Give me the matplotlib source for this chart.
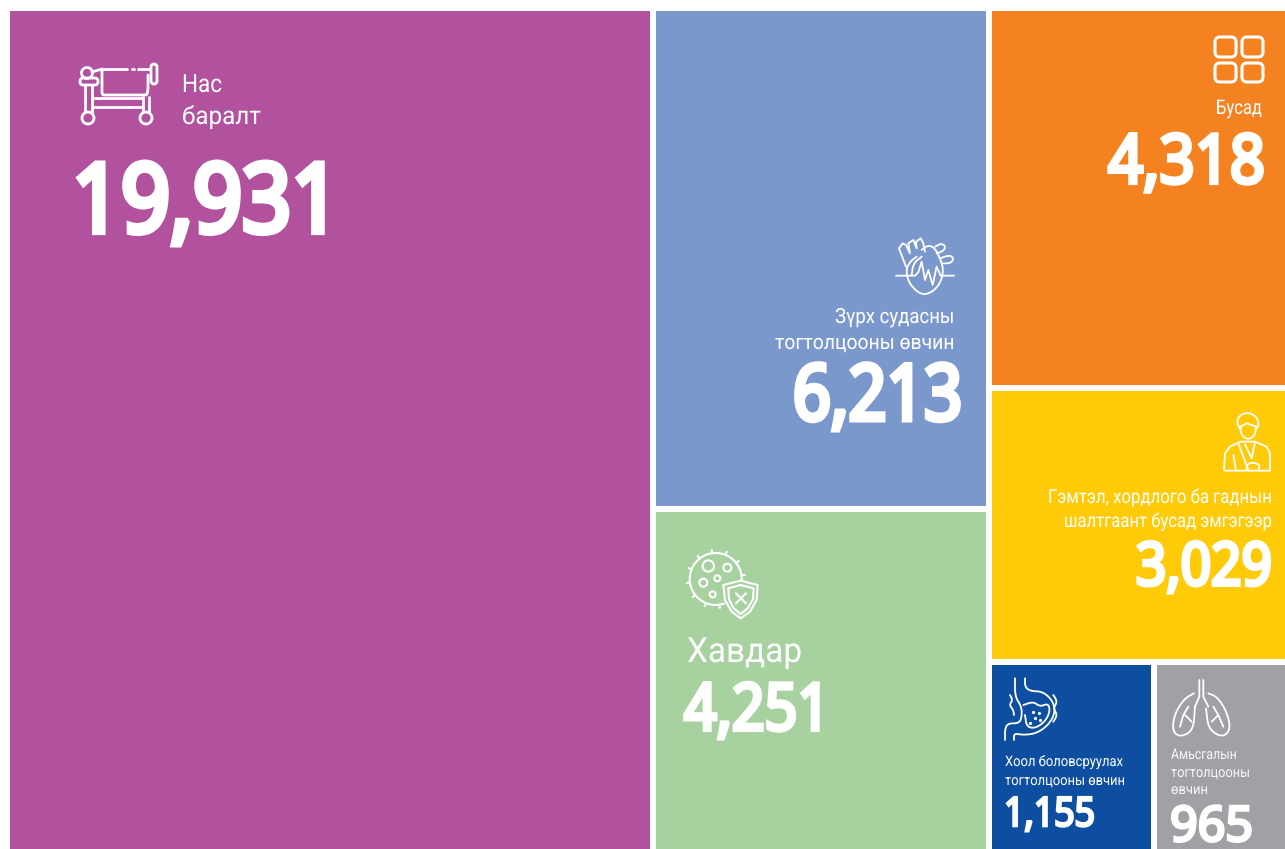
import numpy as np
import matplotlib
matplotlib.use("Agg")
import matplotlib.pyplot as plt
from matplotlib.patches import Rectangle, Circle, FancyBboxPatch
from matplotlib.patheffects import AbstractPathEffect
from matplotlib.transforms import Affine2D

# ---------- data ----------
categories = ["Нас\nбаралт", "Зүрх судасны\nтогтолцооны өвчин", "Хавдар", "Бусад",
              "Гэмтэл, хордлого ба гаднын\nшалтгаант бусад эмгэгээр",
              "Хоол боловсруулах\nтогтолцооны өвчин", "Амьсгалын\nтогтолцооны\nөвчин"]
values = [19931, 6213, 4251, 4318, 3029, 1155, 965]
colors = ["#B2529F", "#7B98CD", "#A8D1A0", "#F58220", "#FFCB08", "#0D4EA0", "#A0A1A4"]

W, H = 1285, 849
X0, X1, Y0, Y1 = 10, 1285, 11, 849
GAP = 6
# small layout corrections in pixels, the artwork is not strictly proportional
COL_NUDGE = [8.5, -1.5, -7]
MID_NUDGE = 1
RIGHT_NUDGE = [-2.5, 3.5]
BOTTOM_NUDGE = 3

fig = plt.figure(figsize=(W / 100, H / 100), dpi=100, facecolor="white")
ax = fig.add_axes([0, 0, 1, 1])
ax.set_xlim(0, W)
ax.set_ylim(H, 0)
ax.axis("off")
renderer = fig.canvas.get_renderer()

# ---------- treemap layout from values ----------
v = np.array(values, dtype=float)
cols = np.array([v[0], v[1] + v[2], v[3:].sum()])
cw = cols / cols.sum() * (X1 - X0 - 2 * GAP) + COL_NUDGE
cx = [X0, X0 + cw[0] + GAP, X0 + cw[0] + cw[1] + 2 * GAP]
fullh = Y1 - Y0
rects = [(cx[0], Y0, cw[0], fullh)]
h1 = v[1] / cols[1] * (fullh - GAP) + MID_NUDGE
rects += [(cx[1], Y0, cw[1], h1), (cx[1], Y0 + h1 + GAP, cw[1], fullh - GAP - h1)]
rest = v[5] + v[6]
avail = fullh - 2 * GAP
h3 = v[3] / cols[2] * avail + RIGHT_NUDGE[0]
h4 = v[4] / cols[2] * avail + RIGHT_NUDGE[1]
h5 = avail - h3 - h4
y5 = Y0 + h3 + h4 + 2 * GAP
w5 = v[5] / rest * (cw[2] - GAP) + BOTTOM_NUDGE
rects += [(cx[2], Y0, cw[2], h3), (cx[2], Y0 + h3 + GAP, cw[2], h4),
          (cx[2], y5, w5, h5), (cx[2] + w5 + GAP, y5, cw[2] - GAP - w5, h5)]
for (x, y, w, h), c in zip(rects, colors):
    ax.add_patch(Rectangle((x, y), w, h, fc=c, ec="none", zorder=1))

# ---------- text ----------
class Condense(AbstractPathEffect):
    """Narrow a text horizontally about its anchor; there is no condensed face installed."""
    def __init__(self, anchor_x, sx, stroke=0.0):
        super().__init__()
        self.anchor_x, self.sx, self.stroke = anchor_x, sx, stroke

    def draw_path(self, renderer, gc, tpath, affine, rgbFace=None):
        scale = Affine2D().translate(-self.anchor_x, 0).scale(self.sx, 1).translate(self.anchor_x, 0)
        gc0 = renderer.new_gc()
        gc0.copy_properties(gc)
        if self.stroke > 0:
            gc0.set_linewidth(self.stroke)
            gc0.set_foreground("white")
            gc0.set_joinstyle("miter")
        else:
            gc0.set_linewidth(0)
        renderer.draw_path(gc0, tpath, affine + scale, rgbFace)
        gc0.restore()

def fitted(x, y, s, size, width, ha, family, weight, stroke, alpha=1.0):
    t = ax.text(x, y, s, fontsize=size, family=family, fontweight=weight, color="white",
                ha=ha, va="baseline", alpha=alpha, zorder=5)
    sx = width / t.get_window_extent(renderer).width
    t.set_path_effects([Condense(x, sx, stroke)])
    return t

def label(x, y, s, size, width, ha="left", alpha=1.0):
    return fitted(x, y, s, size, width, ha, ["Roboto", "DejaVu Sans"], "normal", 0, alpha)

def number(x, y, val, size, width, ha="left", stroke=1.5):
    return fitted(x, y, f"{val:,}", size, width, ha, ["Noto Sans", "DejaVu Sans"], "bold", stroke)

LN = [c.split("\n") for c in categories]
label(182, 92, LN[0][0], 18, 40); label(182, 124, LN[0][1], 18, 79)
number(72, 232, values[0], 69, 268, stroke=4.5)
label(955, 323, LN[1][0], 15, 120, "right"); label(955, 349, LN[1][1], 15, 180, "right")
number(962, 420, values[1], 56, 169, "right", 3.6)
label(687, 662, LN[2][0], 25, 115)
number(684, 730, values[2], 47, 146, stroke=3.0)
label(1262, 114, LN[3][0], 14.5, 46, "right")
number(1265, 183, values[3], 49, 157, "right", 3.0)
label(1273, 503, LN[4][0], 14, 225, "right"); label(1273, 527, LN[4][1], 14, 209, "right")
number(1272, 585, values[4], 43, 136, "right", 2.8)
label(1005, 766, LN[5][0], 10.5, 118); label(1005, 785, LN[5][1], 10.5, 120)
number(1004, 826, values[5], 29, 91, stroke=1.9)
for s_, yy, ww in zip(LN[6], [759, 777, 794], [66, 79, 37]):
    label(1171, yy, s_, 10.5, ww, alpha=0.92)
number(1170, 841, values[6], 35, 83, stroke=2.2)

# ---------- icons (decoration, drawn as line work) ----------
def chaikin(p, n=2, closed=False):
    p = np.asarray(p, float)
    if closed:
        p = np.vstack([p, p[0]])
    for _ in range(n):
        q = [p[0]] if not closed else []
        for a, b in zip(p[:-1], p[1:]):
            q += [0.75 * a + 0.25 * b, 0.25 * a + 0.75 * b]
        if closed:
            q.append(q[0])
        else:
            q.append(p[-1])
        p = np.array(q)
    return p

def line(pts, ox=0, oy=0, s=1.0, lw=1.3, smooth=False, closed=False, zorder=6, fill=None):
    pts = np.asarray(pts, float)
    if smooth:
        pts = chaikin(pts, closed=closed)
    elif closed:
        pts = np.vstack([pts, pts[0]])
    x = pts[:, 0] * s + ox
    y = pts[:, 1] * s + oy
    if fill is not None:
        ax.fill(x, y, fc=fill, ec="none", zorder=zorder)
    ax.plot(x, y, color="white", lw=lw, solid_capstyle="round", solid_joinstyle="round", zorder=zorder)

def circ(x, y, r, lw=1.3, zorder=6):
    ax.add_patch(Circle((x, y), r, fc="none", ec="white", lw=lw, zorder=zorder))

def rrect(x0, y0, x1, y1, pad, lw=1.3):
    ax.add_patch(FancyBboxPatch((x0 + pad, y0 + pad), x1 - x0 - 2 * pad, y1 - y0 - 2 * pad,
                                boxstyle=f"round,pad={pad},rounding_size={pad}",
                                fc="none", ec="white", lw=lw, zorder=6))

# bed
LW = 2.0
circ(88, 118, 6, LW); circ(146, 118, 6, LW); circ(87, 73, 5.5, LW)
rrect(80, 78, 98, 85, 3, LW)
rrect(151, 64, 157, 84, 3, LW)
for seg in ([(85, 85), (85, 112)], [(92, 85), (92, 112)], [(143, 97), (143, 112)], [(149, 97), (149, 112)],
            [(92, 98), (143, 98)], [(92, 107), (143, 107)], [(102, 69), (127, 69)], [(132, 69), (134, 69)],
            [(138, 69), (150, 69)], [(92, 72), (102, 69)]):
    line(seg, lw=LW)
line([(102, 70), (102, 90), (102, 95), (107, 95), (143, 95), (148, 95), (148, 75)], lw=LW, smooth=True)

# heart
o = dict(ox=880, oy=225, s=1 / 3, lw=1.3)
line([(48, 152), (105, 152), (115, 142), (125, 110), (135, 165), (145, 135), (158, 180), (170, 125), (182, 152), (222, 152)], **o)
line([(110, 95), (90, 110), (78, 135), (85, 170), (110, 200), (135, 210), (165, 195), (185, 165), (190, 130), (180, 100), (165, 70), (145, 60), (125, 75)], smooth=True, **o)
line([(78, 125), (57, 70), (68, 55), (78, 60), (90, 85), (85, 55), (100, 45), (110, 70), (108, 50), (122, 40), (130, 55), (135, 80)], **o)
line([(165, 65), (185, 55), (197, 65), (190, 78), (170, 85)], smooth=True, **o)
line([(180, 100), (210, 90), (222, 102), (210, 115), (190, 115)], smooth=True, **o)
line([(95, 150), (100, 115), (125, 95)], smooth=True, **o)

# tumour with shield
cx_, cy_, r_ = 715.7, 579, 26
th = np.radians(np.arange(0, 292, 4))
ax.plot(cx_ + r_ * np.cos(th), cy_ - r_ * np.sin(th), color="white", lw=1.5, zorder=6)
for a in np.radians(np.arange(0, 290, 30) + 8):
    ax.plot([cx_ + r_ * np.cos(a), cx_ + (r_ + 3) * np.cos(a)], [cy_ - r_ * np.sin(a), cy_ - (r_ + 3) * np.sin(a)],
            color="white", lw=1.5, zorder=6)
for zx, zy, zr in [(100, 78, 17), (157, 83, 12), (127, 115, 9), (85, 128, 12), (113, 163, 9)]:
    circ(675 + zx / 3, 540 + zy / 3, zr / 3, 1.5)
o = dict(ox=675, oy=540, s=1 / 3, lw=1.5)
line([(145, 135), (197, 122), (248, 135), (245, 180), (225, 215), (197, 235), (170, 215), (150, 180)], closed=True, fill=colors[2], **o)
line([(160, 145), (197, 135), (236, 145), (234, 178), (218, 205), (197, 222), (176, 205), (162, 178)], closed=True, **o)
line([(183, 160), (213, 190)], **o); line([(213, 160), (183, 190)], **o)

# others grid
for xa, xb in [(1215, 1236), (1242, 1263)]:
    for ya, yb in [(37, 57), (63, 82)]:
        rrect(xa, ya, xb, yb, 5, 2.2)

# injured person
o = dict(ox=1210, oy=405, s=1 / 3, lw=1.3)
line([(92, 65), (92, 85), (105, 100), (120, 102), (135, 90), (138, 65)], smooth=True, **o)
line([(90, 72), (80, 50), (90, 30), (115, 22), (140, 35), (147, 60), (138, 72)], smooth=True, **o)
line([(92, 65), (110, 55), (125, 60), (138, 65)], **o)
line([(42, 195), (45, 145), (60, 125), (92, 110), (135, 110), (170, 125), (180, 145), (180, 197), (45, 197)], **o)
line([(85, 115), (115, 195)], **o); line([(105, 118), (125, 160)], **o); line([(135, 112), (125, 160)], **o)
line([(70, 150), (78, 197)], **o)
line([(110, 195), (110, 178), (130, 172), (150, 180), (145, 195)], smooth=True, **o)

# stomach
o = dict(ox=990, oy=665, s=1 / 3, lw=1.3)
line([(105, 40), (105, 65), (120, 78), (160, 80), (190, 110), (195, 145), (175, 180), (140, 205), (100, 210), (72, 205), (72, 225)], smooth=True, **o)
line([(75, 40), (75, 95), (95, 125), (95, 160), (85, 175), (55, 175), (45, 190), (45, 225)], smooth=True, **o)
line([(100, 120), (130, 110), (150, 125), (175, 115), (180, 140), (165, 170), (135, 190), (110, 185), (105, 150)], smooth=True, **o)
line([(60, 90), (68, 105), (58, 120), (70, 135), (72, 150)], smooth=True, **o)
line([(190, 90), (202, 110), (190, 130), (202, 150), (190, 170)], smooth=True, **o)
for zx, zy in [(130, 140), (148, 145), (135, 158), (120, 175), (150, 165)]:
    ax.plot(990 + zx / 3, 665 + zy / 3, "o", ms=1.3, color="white", zorder=6)

# lungs
o = dict(ox=990, oy=665, s=1 / 3, lw=1.3)
line([(628, 45), (628, 95), (615, 125)], **o); line([(640, 45), (640, 95), (655, 125)], **o)
line([(612, 85), (585, 100), (560, 135), (548, 175), (552, 205), (575, 215), (610, 195), (615, 125)], smooth=True, **o)
line([(655, 85), (680, 95), (705, 130), (720, 175), (715, 205), (690, 215), (655, 190), (648, 130)], smooth=True, **o)
line([(595, 125), (580, 150), (570, 185)], **o); line([(585, 150), (605, 170)], **o)
line([(670, 125), (685, 150), (700, 185)], **o); line([(685, 150), (665, 170)], **o)

fig.savefig("out.png", dpi=100, facecolor="white")
